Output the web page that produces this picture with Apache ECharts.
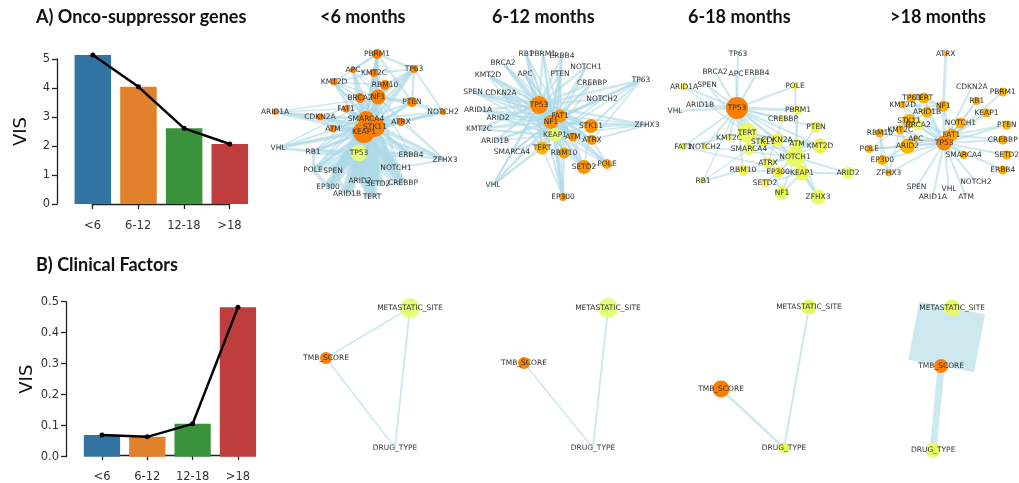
<!DOCTYPE html>
<html>
<head>
<meta charset="utf-8">
<script src="https://cdn.jsdelivr.net/npm/echarts@6/dist/echarts.min.js"></script>
<style>html,body{margin:0;padding:0;background:#fff}#main{width:1019px;height:483px}</style>
</head>
<body>
<div id="main"></div>
<script>
// ---------------- data ----------------
const periods = ['<6', '6-12', '12-18', '>18'];
const genesVIS = [5.14, 4.04, 2.61, 2.07];
const clinicalVIS = [0.070, 0.064, 0.106, 0.482];
const genesTicks = [0, 1, 2, 3, 4, 5];
const clinicalTicks = [0.0, 0.1, 0.2, 0.3, 0.4, 0.5];
const panelTitles = ['<6 months', '6-12 months', '6-18 months', '>18 months'];

// gene networks: [gene, layoutX, layoutY, importance, heat]
const netLt6 = [
  ['PBRM1',117,24,10,1],['TP63',154,39,8,0.95],['APC',93,40,6,1],['KMT2C',114,43,8,1],
  ['KMT2D',74,52,7,1],['RBM10',125,55,10,1],['BRCA2',100,68,10,1],['NF1',118,67,15,1],
  ['PTEN',152,72,10,0.95],['ARID1A',15,82,6,1],['NOTCH2',183,82,6,1],['FAT1',86,79,7,1],
  ['CDKN2A',60,87,7,1],['SMARCA4',106,89,16,1],['ATRX',141,92,8,1],['STK11',115,97,20,1],
  ['KEAP1',104,102,22,1],['ATM',73,99,7,1],['VHL',18,118,0,1],['RB1',53,122,0,1],
  ['TP53',99,123,17,0],['ERBB4',151,125,0,1],['ZFHX3',185,130,0,1],['POLE',53,140,0,1],
  ['SPEN',73,141,0,1],['NOTCH1',136,138,0,1],['ARID2',100,151,0,1],['SETD2',118,154,0,1],
  ['CREBBP',143,153,0,1],['EP300',68,157,0,1],['ARID1B',87,164,0,1],['TERT',112,167,0,1]
];
const hubsLt6 = [['KEAP1',3],['STK11',2.5],['SMARCA4',2],['NF1',1.5]];
const linksLt6 = [
  ['TP53','POLE',9],['TP53','SPEN',9],['TP53','EP300',9],['TP53','ARID1B',12],['TP53','ARID2',12],
  ['TP53','TERT',12],['TP53','SETD2',12],['TP53','CREBBP',9],['TP53','NOTCH1',9],['TP53','RB1',6],
  ['TP53','ERBB4',5],['KEAP1','TP53',12],['KEAP1','ARID2',12],['KEAP1','SETD2',12],['KEAP1','TERT',12],
  ['KEAP1','ARID1B',9],['KEAP1','CREBBP',9],['KEAP1','NOTCH1',9],['KEAP1','EP300',9],
  ['PBRM1','TP63',2.5],['PBRM1','PTEN',2.5],['TP63','PTEN',2.5],['TP63','NOTCH2',2],['TP63','RBM10',2.5],
  ['TP63','KMT2C',2],['APC','PBRM1',2.5],['KMT2D','PBRM1',2],['KMT2D','RBM10',1.5],['PTEN','NOTCH2',2],
  ['ATRX','NOTCH2',2],['ATRX','ZFHX3',1.5],['ERBB4','ZFHX3',2.5],['NOTCH1','ZFHX3',2],['VHL','RB1',2],
  ['VHL','TP53',1.5],['ARID1A','CDKN2A',1.5],['ARID1A','FAT1',1.5],['NF1','PBRM1',4],['NF1','TP63',3],['NF1','PTEN',3],
  ['POLE','EP300',4],['SPEN','ARID1B',4],['ARID2','TERT',4],['SETD2','CREBBP',4],['RB1','POLE',3],
  ['KMT2D','KMT2C',2],['APC','KMT2C',2],['KMT2D','BRCA2',2],['CDKN2A','ATM',2],['SMARCA4','ATRX',4],
  ['STK11','ERBB4',4],['STK11','NOTCH1',6],['SMARCA4','FAT1',3],['ATM','KEAP1',4]
];

const net6to12 = [
  ['RB1',86,24,0,1],['PBRM1',103,24,0,1],['ERBB4',122,26,0,1],['BRCA2',63,33,0,1],['NOTCH1',146,37,0,1],
  ['KMT2D',48,45,0,1],['APC',85,44,0,1],['PTEN',120,44,0,1],['TP63',201,50,0,1],['CREBBP',152,53,0,1],
  ['SPEN',33,62,0,1],['CDKN2A',61,63,0,1],['NOTCH2',162,69,0,1],['TP53',99,75,18,0.95],['ARID1A',38,80,0,1],
  ['FAT1',120,86,13,0.85],['ARID2',58,88,0,1],['NF1',111,92,14,0.9],['STK11',151,96,14,0.85],
  ['ZFHX3',207,95,0,1],['KMT2C',39,99,0,1],['KEAP1',115,105,14,0],['ATM',133,107,9,0.85],
  ['ATRX',152,110,10,0.85],['ARID1B',55,111,0,1],['SMARCA4',72,122,0,1],['TERT',102,118,13,0.6],
  ['RBM10',124,123,11,0.8],['POLE',167,134,10,0.75],['SETD2',144,137,14,0.85],['VHL',53,155,0,1],
  ['EP300',123,167,8,0.8]
];
const hubs6to12 = [['TP53',2.5],['NF1',2],['FAT1',1.6],['KEAP1',1.6]];
const links6to12 = [
  ['KEAP1','EP300',4],['TERT','EP300',1.5],['RBM10','EP300',2],['SETD2','POLE',2.5],['ATRX','POLE',2],
  ['STK11','ZFHX3',2.5],['ATRX','ZFHX3',2],['STK11','TP63',2],['ATRX','TP63',1.5],['NOTCH2','TP63',1.5],
  ['SETD2','STK11',2],['VHL','TERT',2],['VHL','SMARCA4',1.5],['SETD2','RBM10',2],['ATM','SETD2',2],
  ['STK11','KMT2D',1.5],['STK11','SPEN',1.5],['ATM','BRCA2',1.5],['ATRX','KMT2C',1.5],['STK11','ARID1A',1.5],
  ['TERT','KMT2D',1.5],['TERT','RB1',1.5],['ATM','APC',1.5],['SETD2','CDKN2A',1.5]
];

const net6to18 = [
  ['TP63',88,24,0,0.1],['BRCA2',65,42,0,0.1],['APC',86,44,0,0.1],['ERBB4',107,43,0,0.1],
  ['ARID1A',34,57,7,0.1],['SPEN',57,55,0,0.1],['POLE',145,56,7,0.1],['ARID1B',50,75,0,0.1],
  ['TP53',87,78,22,1],['VHL',25,81,0,0.1],['PBRM1',148,80,9,0.1],['CREBBP',133,89,7,0.15],
  ['PTEN',166,97,11,0.1],['TERT',97,103,20,0.05],['KMT2C',79,108,6,0.1],['STK11',113,112,10,0.1],
  ['CDKN2A',127,110,13,0.1],['ATM',147,114,11,0.05],['KMT2D',170,116,15,0.1],['FAT1',33,117,7,0.1],
  ['NOTCH2',55,117,6,0.1],['SMARCA4',99,119,12,0.05],['NOTCH1',145,127,20,0.05],['ATRX',118,133,11,0.1],
  ['RBM10',93,140,11,0.1],['EP300',128,142,11,0.15],['KEAP1',152,143,15,0.1],['ARID2',198,143,12,0.05],
  ['RB1',53,151,6,0.1],['SETD2',115,153,8,0.1],['NF1',132,163,14,0.05],['ZFHX3',168,167,15,0.05]
];
const hubs6to18 = [];
const links6to18 = [
  ['TP53','TP63',2],['TP53','BRCA2',2],['TP53','APC',2],['TP53','ERBB4',2.5],['TP53','SPEN',2],
  ['TP53','ARID1A',2],['TP53','ARID1B',3],['TP53','VHL',2],['TP53','POLE',2],['TP53','PBRM1',3],
  ['TP53','CREBBP',2],['TP53','PTEN',2],['TP53','TERT',3],['TP53','KMT2C',2],['TP53','STK11',2],
  ['TP53','CDKN2A',2],['TP53','ATM',2],['TP53','FAT1',2],['TP53','NOTCH2',2],['TP53','SMARCA4',2.5],
  ['TP53','NOTCH1',2],['TP53','KMT2D',2],['TP53','RBM10',2],['TP53','ATRX',2],['TP53','RB1',1.5],
  ['TERT','ATM',2],['TERT','KMT2D',2],['TERT','NOTCH1',2],['FAT1','TERT',1.5],['FAT1','KEAP1',1.5],
  ['NOTCH2','NOTCH1',1.5],['RB1','RBM10',2],['RB1','SMARCA4',1.5],['RBM10','NOTCH1',1.5],['RBM10','KEAP1',2],
  ['SETD2','KEAP1',2],['SETD2','NOTCH1',1.5],['NF1','NOTCH1',2],['NF1','ATRX',2],['NF1','KEAP1',2],
  ['ZFHX3','KEAP1',2.5],['ZFHX3','NOTCH1',2],['ZFHX3','ATM',1.5],['KEAP1','ARID2',2],['NOTCH1','ARID2',2],
  ['EP300','KEAP1',2],['POLE','ATM',2],['PBRM1','NOTCH1',1.5],['PTEN','NOTCH1',2],['KMT2D','ATM',2],
  ['CDKN2A','KEAP1',2],['STK11','KEAP1',1.5],['SMARCA4','KMT2D',1.5],['ATRX','KMT2D',1.5],
  ['EP300','NOTCH1',2],['ATRX','NOTCH1',2],['CREBBP','ATRX',1.5],['ARID1A','TERT',1.5],['SPEN','TERT',1.5]
];

const netGt18 = [
  ['ATRX',130,24,5,0.6],['CDKN2A',162,57,0,0.6],['RB1',168,71,8,0.6],['TP63',88,68,9,0.6],
  ['TERT',103,68,11,0.6],['KMT2D',77,75,7,0.6],['NF1',127,76,11,0.65],['ARID1B',107,82,11,0.6],
  ['KEAP1',180,83,9,0.6],['STK11',85,91,14,0.6],['BRCA2',96,95,11,0.05],['NOTCH1',148,93,11,0.6],
  ['RBM10',49,103,9,0.6],['KMT2C',74,100,9,0.6],['FAT1',137,105,13,0.68],['APC',93,109,6,0.6],
  ['TP53',128,113,15,0.95],['ARID2',83,116,15,0.6],['POLE',36,119,8,0.6],['SMARCA4',152,125,8,0.6],
  ['EP300',52,130,10,0.6],['ZFHX3',60,143,7,0.6],['NOTCH2',167,152,0,0.6],['SPEN',94,157,0,0.6],
  ['VHL',134,159,0,0.6],['ARID1A',114,167,0,0.6],['ATM',155,167,0,0.6],
  ['PTEN',205,95,9,0.6],['CREBBP',200,110,9,0.6],['SETD2',205,125,9,0.6],['ERBB4',200,140,9,0.6],['PBRM1',200,62,9,0.6]
];
const hubsGt18 = [];
const linksGt18 = [
  ['TP53','CDKN2A',2],['TP53','RB1',2],['TP53','KEAP1',2],['TP53','NOTCH1',2],['TP53','FAT1',3],
  ['TP53','SMARCA4',2],['TP53','NOTCH2',2],['TP53','ATM',2],['TP53','VHL',2],['TP53','ARID1A',2],
  ['TP53','SPEN',2],['TP53','EP300',2],['TP53','POLE',2],['TP53','RBM10',2],['TP53','ARID2',2],
  ['TP53','APC',2],['TP53','KMT2C',2],['TP53','STK11',2],['TP53','BRCA2',2],['TP53','ARID1B',2],
  ['TP53','KMT2D',2],['TP53','TP63',2],['TP53','TERT',2],['TP53','NF1',3],['TP53','PTEN',2],
  ['TP53','CREBBP',2],['TP53','SETD2',2],['TP53','ERBB4',2],['TP53','PBRM1',2],['TP53','ZFHX3',1.5],
  ['RBM10','STK11',2],['RBM10','EP300',2],['RBM10','ZFHX3',1.5],['POLE','STK11',1.5],['POLE','ARID2',2],
  ['EP300','ARID2',2],['EP300','ZFHX3',1.5],['ZFHX3','KMT2C',1.5],['KMT2C','ARID2',2],['STK11','TERT',2],
  ['STK11','NF1',2],['TP63','NF1',2],['TERT','NF1',2],['ARID1B','NF1',2],['KMT2D','NF1',2],
  ['ATRX','NF1',3],['NF1','FAT1',2],['ARID2','FAT1',2],['STK11','FAT1',2],['KMT2D','STK11',1.5],
  ['FAT1','KEAP1',2],['FAT1','PTEN',2],['FAT1','CREBBP',2],['NOTCH1','FAT1',2],['RB1','NOTCH1',1.5]
];

// clinical networks: [factor, layoutX, layoutY, importance, heat]
const clinLt6 = [['METASTATIC_SITE',140,28,20,0],['TMB_SCORE',56,78,12,1],['DRUG_TYPE',125,168,0,0]];
const clinLinksLt6 = [['METASTATIC_SITE','TMB_SCORE',1.5],['TMB_SCORE','DRUG_TYPE',1.5],['METASTATIC_SITE','DRUG_TYPE',2]];
const clin6to12 = [['METASTATIC_SITE',128,28,20,0],['TMB_SCORE',44,83,12,1],['DRUG_TYPE',113,168,0,0]];
const clinLinks6to12 = [['TMB_SCORE','DRUG_TYPE',1.5],['METASTATIC_SITE','DRUG_TYPE',2]];
const clin6to18 = [['METASTATIC_SITE',129,27,15,0.05],['TMB_SCORE',41,109,17,1],['DRUG_TYPE',104,168,11,0.05]];
const clinLinks6to18 = [['TMB_SCORE','DRUG_TYPE',2.5],['METASTATIC_SITE','DRUG_TYPE',2]];
const clinGt18 = [['METASTATIC_SITE',116,28,17,0.05],['TMB_SCORE',102,86,14,1],['DRUG_TYPE',92,170,15,0.05]];
const clinLinksGt18 = [['METASTATIC_SITE','TMB_SCORE',67],['TMB_SCORE','DRUG_TYPE',7]];

// ---------------- styling / build ----------------
const barColors = ['#3274a1', '#e1812c', '#3a923a', '#c03d3e'];
const wistia = [[228,255,122],[255,232,26],[255,189,0],[255,160,0],[252,127,0]];
function heat(t) {
  const s = Math.max(0, Math.min(1, t)) * 4;
  const i = Math.min(3, Math.floor(s)), f = s - i;
  const a = wistia[i], b = wistia[i + 1];
  return 'rgb(' + a.map((v, k) => Math.round(v + (b[k] - v) * f)).join(',') + ')';
}

const grids = [], xAxes = [], yAxes = [], series = [];
function addGrid(g, x, y) { grids.push(g); const gi = grids.length - 1; x.gridIndex = gi; y.gridIndex = gi; xAxes.push(x); yAxes.push(y); return xAxes.length - 1; }

const axisBlack = { show: true, lineStyle: { color: '#222', width: 1.3 } };
function barPanel(top, bottom, left, width, axisLeft, tickLeft, tickWidth, values, ticks, fmt) {
  const h = bottom - top;
  const yMax = ticks[ticks.length - 1];
  const idx = addGrid({ left: left, top: top, width: width, height: h },
    { type: 'category', data: periods, show: false },
    { type: 'value', min: 0, max: yMax, interval: ticks[1] - ticks[0], offset: left - axisLeft,
      axisLine: axisBlack, axisTick: { show: true, length: 5, lineStyle: { color: '#222', width: 1.3 } },
      axisLabel: { color: '#333', fontSize: 11.5, fontFamily: 'DejaVu Sans', margin: 7, formatter: fmt },
      splitLine: { show: false },
      name: 'VIS', nameLocation: 'middle', nameRotate: 90, nameGap: 27,
      nameTextStyle: { color: '#111', fontSize: 18, fontFamily: 'DejaVu Sans' } });
  series.push({ type: 'bar', xAxisIndex: idx, yAxisIndex: idx, barWidth: '80%', clip: false,
    data: values.map((v, i) => ({ value: v, itemStyle: { color: barColors[i] } })), silent: true });
  series.push({ type: 'line', xAxisIndex: idx, yAxisIndex: idx, data: values, clip: false,
    symbol: 'circle', symbolSize: 5, itemStyle: { color: '#000' }, lineStyle: { color: '#000', width: 2.5 }, silent: true, z: 5 });
  addGrid({ left: tickLeft, top: top, width: tickWidth, height: h },
    { type: 'category', data: periods, boundaryGap: false, offset: 10,
      axisLine: axisBlack, axisTick: { show: true, length: 5, inside: false, lineStyle: { color: '#222', width: 1.3 } },
      axisLabel: { color: '#333', fontSize: 11.5, fontFamily: 'DejaVu Sans', margin: 6, interval: 0 } },
    { type: 'value', show: false, min: 0, max: 1 });
}
barPanel(59, 204, 70, 182.6, 57, 92.5, 137, genesVIS, genesTicks, v => String(v));
barPanel(301.7, 456.7, 79.3, 181.3, 66, 102, 136, clinicalVIS, clinicalTicks, v => v.toFixed(1));

function netPanel(box, nodes, hubs, links) {
  const idx = addGrid({ left: box[0], top: box[1], width: box[2], height: box[3] },
    { type: 'value', min: 0, max: box[2], show: false },
    { type: 'value', min: 0, max: box[3], inverse: true, show: false });
  const allLinks = [];
  hubs.forEach(([h, w]) => nodes.forEach(n => { if (n[0] !== h) allLinks.push([h, n[0], w]); }));
  links.forEach(l => allLinks.push(l));
  series.push({
    type: 'graph', coordinateSystem: 'cartesian2d', xAxisIndex: idx, yAxisIndex: idx,
    layout: 'none', silent: true, animation: false,
    data: nodes.map(n => ({ name: n[0], value: [n[1], n[2]], symbolSize: Math.max(n[3], 0.01),
      itemStyle: { color: n[3] > 0 ? heat(n[4]) : 'rgba(0,0,0,0)' } })),
    links: allLinks.map(l => ({ source: l[0], target: l[1], lineStyle: { width: l[2] } })),
    lineStyle: { color: '#add8e6', opacity: 0.6, curveness: 0, cap: 'butt' },
    label: { show: true, position: 'inside', color: '#333', fontSize: 7.5, fontFamily: 'DejaVu Sans' },
    emphasis: { disabled: true }
  });
}
netPanel([260, 30, 200, 200], netLt6, hubsLt6, linksLt6);
netPanel([440, 30, 220, 200], net6to12, hubs6to12, links6to12);
netPanel([650, 30, 200, 220], net6to18, hubs6to18, links6to18);
netPanel([840, 30, 220, 220], netGt18, hubsGt18, linksGt18);
netPanel([270, 280, 200, 200], clinLt6, [], clinLinksLt6);
netPanel([480, 280, 200, 200], clin6to12, [], clinLinks6to12);
netPanel([680, 280, 180, 200], clin6to18, [], clinLinks6to18);
netPanel([860, 280, 200, 200], clinGt18, [], clinLinksGt18);

const tStyle = { fontFamily: 'Lato', fontWeight: 'bold', fontSize: 18, color: '#111' };
const titles = [
  { text: 'A) Onco-suppressor genes', left: 36, top: 8, textStyle: tStyle },
  { text: 'B) Clinical Factors', left: 36, top: 256, textStyle: tStyle }
];
const titleLefts = [320, 492, 688, 890];
panelTitles.forEach((t, i) => titles.push({ text: t, left: titleLefts[i], top: 8, textStyle: tStyle }));

const chart = echarts.init(document.getElementById('main'), null, { renderer: 'canvas' });
chart.setOption({
  animation: false,
  title: titles.map(t => Object.assign({ padding: 0 }, t)),
  grid: grids, xAxis: xAxes, yAxis: yAxes, series: series
});
</script>
</body>
</html>
